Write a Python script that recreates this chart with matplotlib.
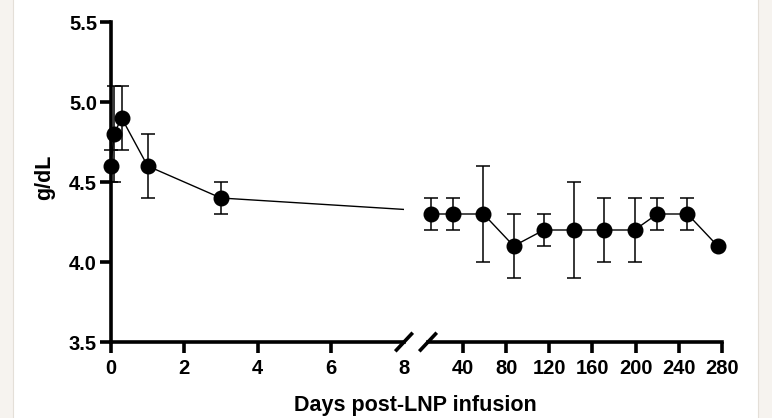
import numpy as np
import matplotlib
matplotlib.use("Agg")
import matplotlib.pyplot as plt
from matplotlib.lines import Line2D
from matplotlib.patches import Rectangle

# albumin (g/dL) after LNP infusion, mean +/- SD
days = [0, 0.083, 0.29, 1, 3, 10, 31, 59, 87, 115, 143, 171, 199, 220, 248, 276]
albumin = [4.6, 4.8, 4.9, 4.6, 4.4, 4.3, 4.3, 4.3, 4.1, 4.2, 4.2, 4.2, 4.2, 4.3, 4.3, 4.1]
sd = [0.1, 0.3, 0.2, 0.2, 0.1, 0.1, 0.1, 0.3, 0.2, 0.1, 0.3, 0.2, 0.2, 0.1, 0.1, np.nan]

left_ticks = [0, 2, 4, 6, 8]
right_ticks = [40, 80, 120, 160, 200, 240, 280]
y_ticks = [3.5, 4.0, 4.5, 5.0, 5.5]

W, H = 772, 418
plt.rcParams["font.family"] = ["Liberation Sans", "DejaVu Sans"]
plt.rcParams["font.weight"] = "bold"

fig = plt.figure(figsize=(W / 100, H / 100), dpi=100)
fig.patch.set_facecolor("white")

# greyish page strips on both sides
for x0, x1 in [(0, 12.7), (757.7, W)]:
    fig.patches.append(Rectangle((x0 / W, 0), (x1 - x0) / W, 1, transform=fig.transFigure,
                                 facecolor="#f6f3ef", edgecolor="none", zorder=0))
for xe in [12.7, 757.7]:
    fig.add_artist(Line2D([xe / W, xe / W], [0, 1], transform=fig.transFigure,
                          color="#e4dfd8", lw=0.8))


def px(x0, y_top, x1, y_bot):
    return [x0 / W, 1 - y_bot / H, (x1 - x0) / W, (y_bot - y_top) / H]


ax1 = fig.add_axes(px(111, 22, 404, 342))
ax2 = fig.add_axes(px(428, 22, 722, 342), sharey=ax1)

LW = 2.6
TS = 14.5
split = 5
for ax, sl, lim in [(ax1, slice(0, split), (0, 8)), (ax2, slice(split, None), (7.6, 280))]:
    ax.plot(days, albumin, color="black", lw=1.0, zorder=2)
    ax.errorbar(days[sl], albumin[sl], yerr=sd[sl], fmt="o", color="black", ms=10.5,
                elinewidth=1.1, capsize=5, capthick=1.1, clip_on=False, zorder=3)
    ax.set_xlim(*lim)
    ax.set_facecolor("none")
    for s in ["top", "right", "left"]:
        ax.spines[s].set_visible(False)
    ax.spines["bottom"].set_linewidth(LW)
    ax.tick_params(axis="x", width=LW, length=8, labelsize=TS, pad=4)

ax1.spines["left"].set_visible(True)
ax1.spines["left"].set_linewidth(LW)
ax1.set_ylim(3.5, 5.5)
ax1.set_yticks(y_ticks)
ax1.set_yticklabels([f"{v:.1f}" for v in y_ticks])
ax1.tick_params(axis="y", width=LW, length=8, labelsize=TS, pad=2)
ax1.set_xticks(left_ticks)
ax1.xaxis.get_major_ticks()[-1].tick1line.set_visible(False)
ax2.set_xticks(right_ticks)
ax2.tick_params(axis="y", left=False, labelleft=False)

# axis break marks
for xc in [404, 428]:
    fig.add_artist(Line2D([(xc - 7.5) / W, (xc + 7.5) / W], [1 - 350 / H, 1 - 334 / H],
                          transform=fig.transFigure, color="black", lw=LW))

fig.text(415 / W, 1 - 406 / H, "Days post-LNP infusion", ha="center", va="center",
         fontsize=15.5, fontweight="bold")
fig.text(45 / W, 1 - 177 / H, "g/dL", ha="center", va="center", rotation=90,
         fontsize=15.5, fontweight="bold")

fig.savefig("out.png", dpi=100)
